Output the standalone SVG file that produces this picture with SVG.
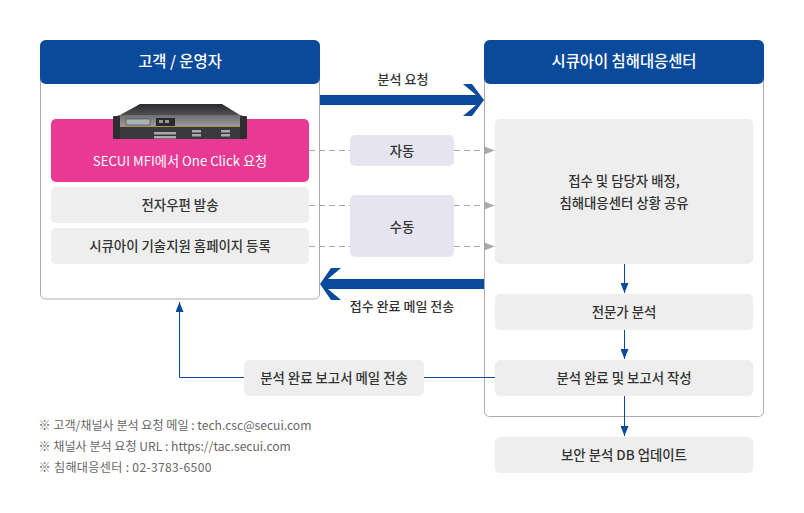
<svg xmlns="http://www.w3.org/2000/svg" width="804" height="513" viewBox="0 0 804 513">
<style>
text{font-family:"Noto Sans CJK KR","Noto Sans",sans-serif;text-anchor:middle;fill:#333;font-size:13.4px;font-weight:500}
.h{fill:#fff;font-size:15.4px}
.s{font-size:13px}
.note{fill:#666;font-size:12.1px;font-weight:400;text-anchor:start}
.panel{fill:#fff;stroke:#aaa;stroke-width:1}
.head{fill:#0a4a9b}
.g{fill:#eee}
.v{fill:#e6e4ef}
.dash{fill:none;stroke:#aaa;stroke-width:1;stroke-dasharray:6 4}
.blue{fill:none;stroke:#0a4a9b;stroke-width:1}
.fat{fill:#0a4a9b}
</style>
<defs>
<marker id="ga" markerUnits="userSpaceOnUse" markerWidth="10" markerHeight="8" refX="10" refY="4" orient="auto"><path d="M0 0L10 4L0 8z" fill="#aaa"/></marker>
<marker id="bb" markerUnits="userSpaceOnUse" markerWidth="10" markerHeight="8" refX="10" refY="4" orient="auto"><path d="M0 0L10 4L0 8z" fill="#0a4a9b"/></marker>
<linearGradient id="front" x1="0" y1="0" x2="0" y2="1"><stop offset="0" stop-color="#6e6e70"/><stop offset="1" stop-color="#9a9a9c"/></linearGradient>
<linearGradient id="lid" x1="0" y1="0" x2="0" y2="1"><stop offset="0" stop-color="#2a2a2c"/><stop offset="1" stop-color="#505052"/></linearGradient>
</defs>
<rect width="804" height="513" fill="#fff"/>
<g id="customer">
<rect class="panel" x="40.5" y="40.5" width="279" height="258.500" rx="5"/>
<rect class="head" x="40" y="40" width="280" height="44" rx="6"/>
<text class="h" x="180" y="67">고객 / 운영자</text>
</g>
<g id="center">
<rect class="panel" x="484.5" y="40.5" width="279" height="376" rx="5"/>
<rect class="head" x="484" y="40" width="280" height="44" rx="6"/>
<text class="h" x="624" y="67">시큐아이 침해대응센터</text>
</g>
<g id="connectors">
<path class="dash" d="M309 150.500H350M454 150.500H494.500" marker-end="url(#ga)"/>
<path class="dash" d="M309 205.500H350M454 205.500H494.500" marker-end="url(#ga)"/>
<path class="dash" d="M309 246.500H350M454 246.500H494.500" marker-end="url(#ga)"/>
<path class="fat" d="M320 95H476L463 84H472L484 100L472 116H463L476 105H320z"/>
<path class="fat" d="M484 279H328L341 268H331L320 284L331 300H341L328 289H484z"/>
<path class="blue" d="M624.500 264V293" marker-end="url(#bb)"/>
<path class="blue" d="M624.500 330V359" marker-end="url(#bb)"/>
<path class="blue" d="M624.500 396V436" marker-end="url(#bb)"/>
<path class="blue" d="M495 377.500H424M244 377.500H179.500V302" marker-end="url(#bb)"/>
<text class="s" x="403" y="84">분석 요청</text>
<text class="s" x="402" y="311">접수 완료 메일 전송</text>
</g>
<g id="mfi">
<rect x="51" y="119" width="258" height="63" rx="5" fill="#e83a93"/>
<text x="180" y="166" style="fill:#fff;font-size:13.2px;font-weight:400">SECUI MFI에서 One Click 요청</text>
</g>
<g id="device">
<path d="M120 115L140 104H222L240 115z" fill="url(#lid)"/>
<rect x="118" y="115" width="124" height="11" fill="url(#front)"/>
<rect x="118" y="126" width="124" height="1" fill="#a8944f"/>
<rect x="118" y="127" width="124" height="12" fill="#3a3a3e"/>
<rect x="113" y="116" width="7" height="23" rx="1" fill="#2e2e32"/>
<rect x="240" y="116" width="7" height="23" rx="1" fill="#2e2e32"/>
<rect x="126" y="119" width="24" height="6" fill="#a9b2b6" stroke="#333" stroke-width=".5"/>
<rect x="156" y="118" width="19" height="8" fill="#2a2a2c"/>
<rect x="159" y="120" width="4" height="3" fill="#999"/>
<rect x="165" y="120" width="4" height="3" fill="#999"/>
<path d="M154 132h22v2.500h-22zM154 136h22v2.500h-22z" fill="#aaa"/>
<path d="M192 130h9v2.500h-9zM192 134h9v2.500h-9zM221 130h9v2.500h-9zM221 134h9v2.500h-9z" fill="#aaa"/>
</g>
<g id="email"><rect class="g" x="51" y="187" width="258" height="36" rx="5"/><text x="180" y="209.500">전자우편 발송</text></g>
<g id="support"><rect class="g" x="51" y="228" width="258" height="36" rx="5"/><text x="180" y="250.500">시큐아이 기술지원 홈페이지 등록</text></g>
<g id="auto"><rect class="v" x="350" y="135" width="104" height="31" rx="5"/><text x="402" y="155.500">자동</text></g>
<g id="manual"><rect class="v" x="350" y="195" width="104" height="62" rx="5"/><text x="402" y="231.500">수동</text></g>
<g id="receive"><rect class="g" x="495" y="119" width="258" height="145" rx="5"/><text x="624" y="185.500">접수 및 담당자 배정,</text><text x="624" y="207.500">침해대응센터 상황 공유</text></g>
<g id="expert"><rect class="g" x="495" y="294" width="258" height="36" rx="5"/><text x="624" y="316.500">전문가 분석</text></g>
<g id="report"><rect class="g" x="495" y="360" width="258" height="36" rx="5"/><text x="624" y="382.500">분석 완료 및 보고서 작성</text></g>
<g id="dbupdate"><rect class="g" x="495" y="437" width="258" height="36" rx="5"/><text x="624" y="459.500">보안 분석 DB 업데이트</text></g>
<g id="mailreport"><rect class="g" x="244" y="360" width="180" height="36" rx="5"/><text x="334" y="382.500">분석 완료 보고서 메일 전송</text></g>
<g id="notes">
<text class="note" x="38.500" y="430">※ 고객/채널사 분석 요청 메일 : tech.csc@secui.com</text>
<text class="note" x="38.500" y="451">※ 채널사 분석 요청 URL : https://tac.secui.com</text>
<text class="note" x="38.500" y="472" style="letter-spacing:.32px">※ 침해대응센터 : 02-3783-6500</text>
</g>
</svg>
